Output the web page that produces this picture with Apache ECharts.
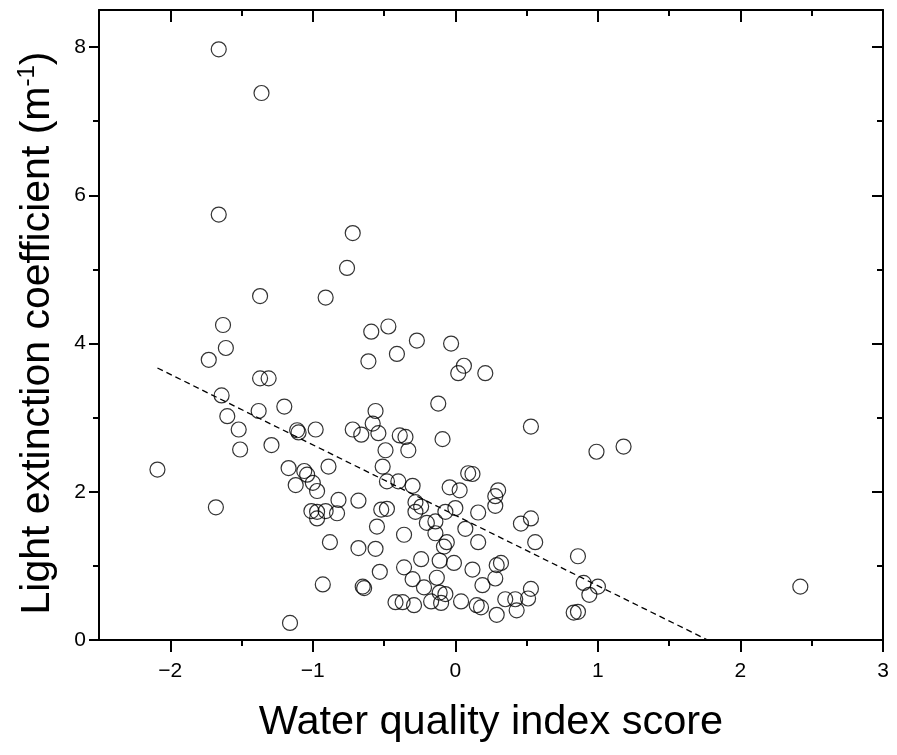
<!DOCTYPE html>
<html><head><meta charset="utf-8">
<script src="https://cdn.jsdelivr.net/npm/echarts@6/dist/echarts.min.js"></script>
<style>html,body{margin:0;padding:0;background:#fff}#c{width:897px;height:755px}</style>
</head><body><div id="c"></div>
<script>
const wqiScore = [
 -1.66,-1.36,-1.66,-0.72,-0.76,-1.37,-0.91,-1.63,-0.59,-0.47,
 -0.27,-0.03,-1.61,-0.41,-1.73,-0.61,0.06,0.02,0.21,-1.37,
 -1.31,-1.64,-0.12,-1.20,-1.38,-0.56,-1.60,-0.58,0.53,-1.52,
 -1.11,-1.10,-0.98,-0.72,-0.66,-0.54,-0.39,-0.35,-0.09,1.18,
 0.99,-1.51,-1.29,-0.49,-0.33,-2.09,-1.17,-0.89,-0.51,-1.06,
 -1.04,0.09,0.12,-1.12,-1.00,-0.97,-0.48,-0.40,-0.30,-0.04,
 0.03,0.30,0.28,-0.82,-0.68,-0.28,-0.24,-0.28,0.28,-1.68,
 -0.48,-0.52,-0.07,0.00,0.16,-1.01,-0.97,-0.91,-0.83,-0.97,
 -0.20,-0.14,0.46,0.53,-0.55,0.07,-0.36,-0.14,-0.88,-0.06,
 -0.08,0.16,0.56,-0.68,-0.56,0.86,-0.24,-0.11,-0.01,-0.36,
 -0.53,0.12,0.29,0.32,-0.30,-0.13,0.28,-0.22,-0.93,-0.65,
 -0.64,-0.11,-0.07,0.19,0.53,0.90,1.00,0.94,2.42,-0.42,
 -0.37,-0.29,-0.17,-0.10,0.04,0.15,0.18,0.29,0.35,0.42,
 0.43,0.51,0.83,0.86,-1.16
];
const lightExt = [
 7.97,7.38,5.74,5.49,5.02,4.64,4.62,4.25,4.16,4.23,
 4.04,4.00,3.94,3.86,3.78,3.76,3.70,3.60,3.60,3.53,
 3.53,3.30,3.19,3.15,3.09,3.09,3.02,2.92,2.88,2.84,
 2.83,2.80,2.84,2.84,2.77,2.79,2.76,2.74,2.71,2.61,
 2.54,2.57,2.63,2.56,2.56,2.30,2.32,2.34,2.34,2.28,
 2.23,2.25,2.24,2.09,2.12,2.01,2.14,2.14,2.08,2.06,
 2.02,2.02,1.94,1.89,1.88,1.86,1.80,1.73,1.81,1.79,
 1.77,1.76,1.73,1.78,1.72,1.74,1.73,1.74,1.71,1.64,
 1.58,1.60,1.57,1.64,1.53,1.50,1.42,1.44,1.32,1.32,
 1.26,1.32,1.32,1.24,1.23,1.13,1.09,1.07,1.04,0.98,
 0.92,0.95,1.01,1.04,0.82,0.84,0.83,0.71,0.75,0.72,
 0.70,0.64,0.62,0.74,0.69,0.77,0.72,0.61,0.72,0.51,
 0.51,0.47,0.52,0.50,0.52,0.47,0.44,0.34,0.55,0.55,
 0.40,0.56,0.37,0.38,0.23
];
const trendX = [-2.09, 1.77];
const trendY = [3.67, 0];
const xMajorTicks = [-2, -1, 0, 1, 2, 3];
const xMinorTicks = [-1.5, -0.5, 0.5, 1.5, 2.5];
const yMajorTicks = [0, 2, 4, 6, 8];
const yMinorTicks = [1, 3, 5, 7];

const FONT = 'Liberation Sans, Arial, Helvetica, sans-serif';
const scatterData = wqiScore.map((x, i) => [x, lightExt[i]]);
const trendData = trendX.map((x, i) => [x, trendY[i]]);

const X_MIN = -2.5, X_MAX = 3, Y_MIN = 0, Y_MAX = 8.5;
const lineStyle = {color: '#000', width: 2};

function xAx(pos, ticks, len, inside, showLine, showLabel) {
  return {
    type: 'value', position: pos, min: X_MIN, max: X_MAX,
    axisLine: {show: showLine, onZero: false, lineStyle},
    axisTick: {show: true, inside, length: len, customValues: ticks, lineStyle: {color: '#000', width: 2}},
    axisLabel: showLabel ? {show: true, customValues: ticks, margin: 21, fontSize: 21, color: '#000', fontFamily: FONT,
      formatter: v => String(v).replace('-', '\u2212')} : {show: false},
    splitLine: {show: false}
  };
}
function yAx(pos, ticks, len, inside, showLine, showLabel) {
  return {
    type: 'value', position: pos, min: Y_MIN, max: Y_MAX,
    axisLine: {show: showLine, onZero: false, lineStyle},
    axisTick: {show: true, inside, length: len, customValues: ticks, lineStyle: {color: '#000', width: 2}},
    axisLabel: showLabel ? {show: true, customValues: ticks, margin: 13, fontSize: 21, color: '#000', fontFamily: FONT} : {show: false},
    splitLine: {show: false}
  };
}

const xAxes = [
  xAx('bottom', xMajorTicks, 12, false, true, true),
  xAx('bottom', xMinorTicks, 6, false, false, false),
  xAx('top', xMajorTicks, 12, true, true, false),
  xAx('top', xMinorTicks, 6, true, false, false)
];
xAxes[0].name = 'Water quality index score';
xAxes[0].nameLocation = 'middle';
xAxes[0].nameGap = 62;
xAxes[0].nameTextStyle = {fontSize: 41.5, color: '#000', fontFamily: FONT};

const yAxes = [
  yAx('left', yMajorTicks, 10, false, true, true),
  yAx('left', yMinorTicks, 6, false, false, false),
  yAx('right', yMajorTicks, 11, true, true, false),
  yAx('right', yMinorTicks, 6, true, false, false)
];
yAxes[0].name = '{t|Light extinction coefficient (m}{s|-1}{t|)}';
yAxes[0].nameLocation = 'middle';
yAxes[0].nameGap = 38;
yAxes[0].nameTextStyle = {
  color: '#000', fontFamily: FONT, padding: [0, 16, 0, 0],
  rich: {
    t: {fontSize: 41, color: '#000', fontFamily: FONT, lineHeight: 46},
    s: {fontSize: 24, color: '#000', fontFamily: FONT, verticalAlign: 'top', lineHeight: 30}
  }
};

const chart = echarts.init(document.getElementById('c'), null, {renderer: 'canvas'});
chart.setOption({
  animation: false,
  backgroundColor: '#fff',
  grid: {left: 99, right: 14, top: 10, bottom: 115, containLabel: false},
  xAxis: xAxes,
  yAxis: yAxes,
  series: [
    {
      type: 'line', xAxisIndex: 0, yAxisIndex: 0, data: trendData,
      symbol: 'none', silent: true,
      lineStyle: {color: '#000', width: 1.3, type: [6, 4]}, z: 3
    },
    {
      type: 'scatter', xAxisIndex: 0, yAxisIndex: 0, data: scatterData,
      symbol: 'circle', symbolSize: 15,
      itemStyle: {color: 'rgba(255,255,255,0)', borderColor: '#000', borderWidth: 1.2}, z: 2
    }
  ]
});
</script></body></html>
